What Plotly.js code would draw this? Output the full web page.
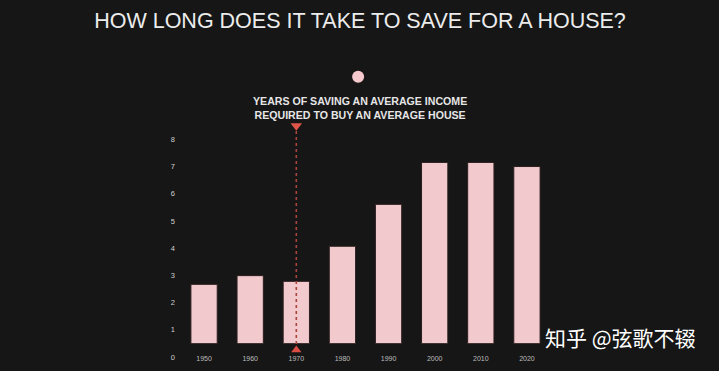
<!DOCTYPE html>
<html>
<head>
<meta charset="utf-8">
<script src="https://cdn.plot.ly/plotly-3.0.1.min.js"></script>
<style>html,body{margin:0;padding:0;background:#161616;}</style>
</head>
<body>
<div id="chart" style="width:719px;height:371px;"></div>
<script>
const years = ['1950','1960','1970','1980','1990','2000','2010','2020'];
const yearsToSave = [2.67, 2.99, 2.78, 4.07, 5.61, 7.15, 7.15, 7.0];
const barBottom = 0.49;
const yTicks = [0,1,2,3,4,5,6,7,8];
const markerYear = '1970';
const markerSpan = [0.26, 8.5];
const titleText = 'HOW LONG DOES IT TAKE TO SAVE FOR A HOUSE?';
const noteText = 'YEARS OF SAVING AN AVERAGE INCOME<br>REQUIRED TO BUY AN AVERAGE HOUSE';
const watermark = '知乎 @弦歌不辍';

const bars = {
  type: 'bar',
  x: years,
  y: yearsToSave.map(v => v - barBottom),
  base: years.map(() => barBottom),
  width: 0.57,
  marker: {color: '#f2c9cc', line: {color: '#2b1f1f', width: 1}},
  hoverinfo: 'skip'
};
const dotLine = {
  type: 'scatter', mode: 'lines', x: [markerYear, markerYear], y: markerSpan,
  line: {color: '#a8463d', width: 1.6, dash: 'dot'},
  cliponaxis: false, hoverinfo: 'skip'
};
const topMarker = {
  type: 'scatter', mode: 'markers', x: [markerYear], y: [markerSpan[1]],
  marker: {symbol: 'triangle-down', size: 10, color: '#e0554a'},
  cliponaxis: false, hoverinfo: 'skip'
};
const bottomMarker = {
  type: 'scatter', mode: 'markers', x: [markerYear], y: [markerSpan[0]],
  marker: {symbol: 'triangle-up', size: 9, color: '#d84c43'},
  cliponaxis: false, hoverinfo: 'skip'
};

const layout = {
  width: 719, height: 371,
  margin: {l: 181, r: 169, t: 122.5, b: 13.5},
  paper_bgcolor: '#161616', plot_bgcolor: '#161616',
  showlegend: false,
  title: {text: titleText, x: 0.5007, xref: 'container', xanchor: 'center',
    y: 0.946, yref: 'container', yanchor: 'middle',
    font: {family: 'Liberation Sans, Arial, sans-serif', size: 21.5, color: '#ececec'}},
  xaxis: {type: 'category', range: [-0.5, 7.5], showgrid: false, zeroline: false, showline: false,
    ticks: '', ticklabelstandoff: -4,
    tickfont: {family: 'Liberation Sans, Arial, sans-serif', size: 7, color: '#bdbdbd'}},
  yaxis: {range: [0, 8.6], tickvals: yTicks, showgrid: false, zeroline: false, showline: false,
    ticks: '', ticklabelstandoff: 5,
    tickfont: {family: 'Liberation Sans, Arial, sans-serif', size: 7.5, color: '#d0d0d0'}},
  shapes: [
    {type: 'circle', xref: 'paper', yref: 'paper', xsizemode: 'pixel', ysizemode: 'pixel',
      xanchor: 0.48, yanchor: 1.198, x0: -6, x1: 6, y0: -6, y1: 6,
      fillcolor: '#f6c9cf', line: {width: 0}}
  ],
  annotations: [
    {text: '<b>' + noteText.replace('<br>', '</b><br><b>') + '</b>', xref: 'paper', yref: 'paper',
      x: 0.485, y: 1.128, showarrow: false,
      align: 'center', font: {family: 'Liberation Sans, Arial, sans-serif', size: 10.6, color: '#e6e6e6'}},
    {text: watermark, xref: 'paper', yref: 'paper', x: 1.192, y: 0.0137, showarrow: false,
      xanchor: 'center', font: {family: 'Noto Sans CJK SC, sans-serif', size: 21, color: '#ffffff'}}
  ]
};

Plotly.newPlot('chart', [bars, dotLine, topMarker, bottomMarker], layout, {displayModeBar: false, staticPlot: true});
</script>
</body>
</html>
